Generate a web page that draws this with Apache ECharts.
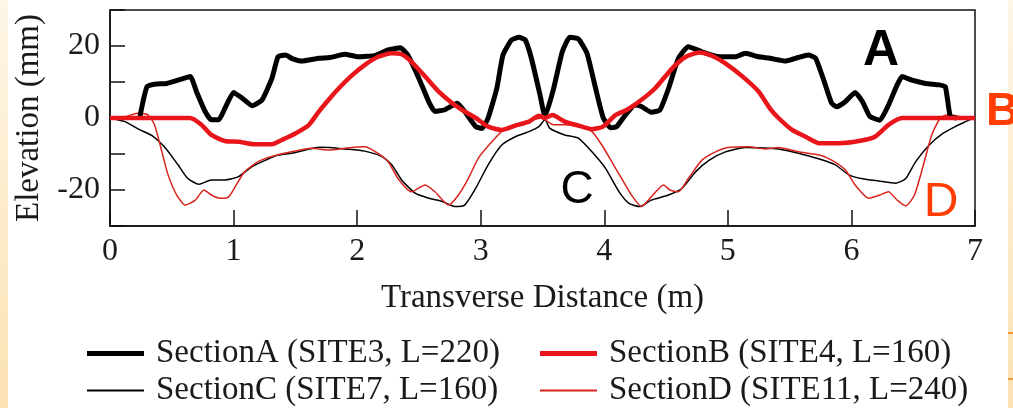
<!DOCTYPE html>
<html>
<head>
<meta charset="utf-8">
<title>Elevation profiles</title>
<script src="https://cdn.jsdelivr.net/npm/echarts@6/dist/echarts.min.js"></script>
<style>
    html, body { margin: 0; padding: 0; background: #fff; }
    #profileChart { width: 1013px; height: 408px; }
</style>
</head>
<body>
<div id="profileChart"></div>
<script>
    var sectionA = [[0.24,0],[0.27,5],[0.30,8.7],[0.36,9.4],[0.46,9.6],[0.55,10.5],[0.65,11.5],[0.70,7.3],[0.77,1.8],[0.82,-0.5],[0.88,-0.5],[0.93,2.7],[1.0,7.1],[1.07,5.5],[1.15,3.4],[1.23,5],[1.31,11],[1.36,17],[1.42,17.5],[1.48,16.4],[1.55,15.8],[1.69,16.6],[1.78,16.8],[1.90,17.7],[2.01,17.0],[2.15,17.4],[2.25,18.9],[2.35,19.5],[2.41,17.5],[2.50,11],[2.58,4.5],[2.63,1.8],[2.71,2.3],[2.81,4.1],[2.87,1.8],[2.96,-2.4],[3.01,-2.9],[3.06,0],[3.13,8.2],[3.18,17.5],[3.25,21.7],[3.31,22.4],[3.36,21.7],[3.41,16.6],[3.48,6.4],[3.52,0.4],[3.59,8.2],[3.66,18.4],[3.72,22.4],[3.79,22],[3.86,18],[3.93,8.2],[3.99,0.2],[4.05,-2.7],[4.10,-2.4],[4.17,0.8],[4.25,3.6],[4.30,3.2],[4.38,1.6],[4.45,2.2],[4.52,8.2],[4.60,16.6],[4.68,19.8],[4.79,18.4],[4.93,17],[5.06,17],[5.14,18],[5.25,17],[5.34,16.6],[5.47,15.8],[5.57,16.8],[5.65,17.5],[5.71,16.6],[5.78,10.1],[5.84,4.1],[5.88,3.1],[5.95,4.5],[6.03,7.1],[6.09,4.5],[6.15,0.4],[6.23,-0.6],[6.30,3.6],[6.37,9.2],[6.41,11.5],[6.49,10.5],[6.60,9.6],[6.71,9.2],[6.76,8.7],[6.80,0.4],[6.85,0]];
    var sectionB = [[0,0],[0.65,0],[0.74,-1.9],[0.82,-4.7],[0.93,-6.4],[1.04,-6.6],[1.17,-7.3],[1.31,-7.3],[1.39,-6.1],[1.50,-4.3],[1.61,-1.9],[1.69,1.8],[1.78,5.5],[1.85,8.2],[1.96,11.9],[2.06,14.7],[2.17,17],[2.28,18],[2.36,17.7],[2.44,15.6],[2.55,11.5],[2.66,7.3],[2.77,4.1],[2.87,1.8],[2.96,0],[3.06,-2.4],[3.17,-3.3],[3.28,-2.1],[3.39,-1.0],[3.47,0.6],[3.52,0],[3.58,0.8],[3.68,-1.0],[3.79,-2.1],[3.90,-3.1],[3.99,-2.4],[4.09,0.8],[4.18,2.2],[4.28,4.5],[4.41,8.2],[4.55,13.8],[4.66,17],[4.77,18.2],[4.87,17.3],[4.98,15.2],[5.12,11.5],[5.25,7.3],[5.34,2.7],[5.41,0],[5.52,-3.3],[5.63,-5.2],[5.74,-7],[5.90,-7],[6.06,-6.4],[6.19,-5.2],[6.30,-1.9],[6.41,0],[7,0]];
    var sectionC = [[0,0],[0.12,-1],[0.23,-3.1],[0.34,-4.9],[0.45,-8.4],[0.55,-13],[0.63,-16.8],[0.72,-18.4],[0.82,-17.2],[0.93,-17.2],[1.04,-16.3],[1.15,-13.5],[1.26,-11.7],[1.36,-10.3],[1.47,-9.8],[1.58,-8.9],[1.69,-8.1],[1.78,-8.2],[1.90,-8.6],[2.06,-9.2],[2.20,-10.7],[2.28,-13],[2.36,-17.2],[2.47,-20.9],[2.58,-22.3],[2.69,-23.2],[2.79,-24.6],[2.87,-24.2],[2.96,-19.5],[3.06,-13],[3.17,-7.5],[3.28,-5.2],[3.39,-3.8],[3.47,-2.4],[3.52,-0.5],[3.56,-2.9],[3.68,-4.7],[3.79,-5.6],[3.90,-9.4],[4.01,-14],[4.12,-20.5],[4.20,-23.7],[4.29,-24.6],[4.38,-22.8],[4.52,-21.4],[4.63,-19.5],[4.74,-14.9],[4.85,-11.7],[4.98,-9.4],[5.14,-8.2],[5.30,-8.3],[5.41,-8.6],[5.57,-9.8],[5.74,-11.4],[5.87,-13],[5.98,-15.8],[6.09,-16.9],[6.22,-17.5],[6.36,-18.1],[6.44,-16.8],[6.52,-12.1],[6.63,-7.5],[6.74,-4.3],[6.84,-2.4],[6.95,-0.6],[6.98,0]];
    var sectionD = [[0,0],[0.12,0.3],[0.22,1.3],[0.31,0.8],[0.36,-1.9],[0.42,-9.4],[0.47,-15.8],[0.54,-21.4],[0.61,-24.2],[0.69,-22.8],[0.76,-20],[0.82,-21.4],[0.89,-22.3],[0.96,-21.9],[1.03,-18.1],[1.09,-14.9],[1.20,-12.1],[1.31,-10.7],[1.47,-9.4],[1.63,-8.4],[1.78,-8.9],[1.90,-8.4],[2.06,-8],[2.15,-9.4],[2.25,-12.1],[2.33,-16.8],[2.44,-20.5],[2.55,-18.6],[2.63,-20.5],[2.74,-24.2],[2.82,-21.4],[2.90,-16.8],[2.98,-11.2],[3.09,-6.6],[3.20,-2.9],[3.31,-1.5],[3.41,-0.6],[3.49,0],[3.59,-1.9],[3.68,-1.9],[3.79,-2.4],[3.90,-3.8],[3.98,-7.5],[4.06,-12.1],[4.14,-16.8],[4.22,-21.4],[4.30,-24.6],[4.38,-21.9],[4.48,-18.6],[4.53,-20],[4.60,-20.5],[4.68,-16.8],[4.79,-11.7],[4.90,-9.4],[5.00,-8.2],[5.17,-8],[5.30,-8.6],[5.41,-8.2],[5.57,-9.4],[5.74,-10.3],[5.84,-11.7],[5.95,-14.4],[6.03,-18.6],[6.14,-22.3],[6.23,-21.4],[6.30,-20.5],[6.37,-22.8],[6.44,-24.4],[6.51,-21.4],[6.59,-12.1],[6.65,-4.7],[6.72,0],[6.79,1.0],[6.87,0.4],[6.95,0],[7,0]];

    var seriesNames = ['SectionA (SITE3, L=220)', 'SectionB (SITE4, L=160)', 'SectionC (SITE7, L=160)', 'SectionD (SITE11, L=240)'];
    var yTickLabels = [-20, 0, 20];

    var serif = 'Liberation Serif, Times New Roman, serif';
    var sans = 'Liberation Sans, Arial, sans-serif';
    var red = '#e8151b';
    var thinRed = '#d8241c';
    var orange = '#ff3d00';

    var chart = echarts.init(document.getElementById('profileChart'));

    function legendAt(name, left, top, color, thick) {
        return {
            data: [name],
            left: left,
            top: top,
            icon: 'rect',
            itemWidth: 57,
            itemHeight: thick,
            itemStyle: { color: color },
            selectedMode: false,
            textStyle: { fontFamily: serif, fontSize: 33, color: '#1a1a1a', padding: [0, 0, 0, 7] }
        };
    }

    var option = {
        backgroundColor: '#fff',
        animation: false,
        grid: { left: 110, right: 38, top: 10, bottom: 182, show: true, borderColor: '#111', borderWidth: 1.5 },
        xAxis: {
            type: 'value', min: 0, max: 7, interval: 1,
            name: 'Transverse Distance (m)', nameLocation: 'middle', nameGap: 56,
            nameTextStyle: { fontFamily: serif, fontSize: 33, color: '#1a1a1a' },
            axisLine: { onZero: false, lineStyle: { color: '#111', width: 1.5 } },
            axisTick: { inside: true, length: 16, lineStyle: { color: '#111', width: 1.5 } },
            axisLabel: { fontFamily: serif, fontSize: 32, color: '#1a1a1a', margin: 10 },
            splitLine: { show: false }
        },
        yAxis: {
            type: 'value', min: -30, max: 30, interval: 10,
            name: 'Elevation (mm)', nameLocation: 'middle', nameGap: 64, nameRotate: 90,
            nameTextStyle: { fontFamily: serif, fontSize: 33, color: '#1a1a1a' },
            axisLine: { onZero: false, lineStyle: { color: '#111', width: 1.5 } },
            axisTick: { inside: true, length: 15, lineStyle: { color: '#111', width: 1.5 } },
            axisLabel: {
                fontFamily: serif, fontSize: 32, color: '#1a1a1a', margin: 10,
                formatter: function (v) { return yTickLabels.indexOf(v) >= 0 ? String(v) : ''; }
            },
            splitLine: { show: false }
        },
        legend: [
            legendAt(seriesNames[0], 82, 332, '#000', 5),
            legendAt(seriesNames[1], 535, 332, red, 5),
            legendAt(seriesNames[2], 82, 369, '#000', 2),
            legendAt(seriesNames[3], 535, 369, thinRed, 2)
        ],
        series: [
            { name: seriesNames[2], type: 'line', data: sectionC, symbol: 'none', smooth: 0.2, lineStyle: { color: '#000', width: 1.5 }, itemStyle: { color: '#000' } },
            { name: seriesNames[3], type: 'line', data: sectionD, symbol: 'none', smooth: 0.2, lineStyle: { color: thinRed, width: 1.5 }, itemStyle: { color: thinRed } },
            { name: seriesNames[0], type: 'line', data: sectionA, symbol: 'none', smooth: 0.15, lineStyle: { color: '#000', width: 5 }, itemStyle: { color: '#000' } },
            { name: seriesNames[1], type: 'line', data: sectionB, symbol: 'none', smooth: 0.2, lineStyle: { color: red, width: 4.5 }, itemStyle: { color: red } }
        ],
        graphic: [
            { type: 'rect', shape: { x: 0, y: 0, width: 8, height: 408 }, z: -1,
              style: { fill: new echarts.graphic.LinearGradient(0, 0, 0, 1, [{ offset: 0, color: '#fdf6e6' }, { offset: 1, color: '#fbe2b3' }]) } },
            { type: 'rect', shape: { x: 1008, y: 0, width: 5, height: 408 }, z: -1,
              style: { fill: new echarts.graphic.LinearGradient(0, 0, 0, 1, [{ offset: 0, color: '#fdf6e6' }, { offset: 1, color: '#fbe2b3' }]) } },
            { type: 'rect', shape: { x: 1008, y: 332, width: 5, height: 2 }, style: { fill: '#f29a3a' } },
            { type: 'rect', shape: { x: 1008, y: 378, width: 5, height: 2 }, style: { fill: '#f29a3a' } },
            { type: 'text', x: 881, y: 51, z: 10, style: { text: 'A', font: 'bold 50px ' + sans, fill: '#000', align: 'center', verticalAlign: 'middle' } },
            { type: 'text', x: 986, y: 112, z: 10, style: { text: 'B', font: 'bold 46px ' + sans, fill: orange, align: 'left', verticalAlign: 'middle' } },
            { type: 'text', x: 577, y: 190, z: 10, style: { text: 'C', font: '46px ' + sans, fill: '#000', align: 'center', verticalAlign: 'middle' } },
            { type: 'text', x: 941, y: 203, z: 10, style: { text: 'D', font: '48px ' + sans, fill: orange, align: 'center', verticalAlign: 'middle' } }
        ]
    };

    chart.setOption(option);
    window.addEventListener('resize', function () {
        chart.resize();
    });
</script>
</body>
</html>
